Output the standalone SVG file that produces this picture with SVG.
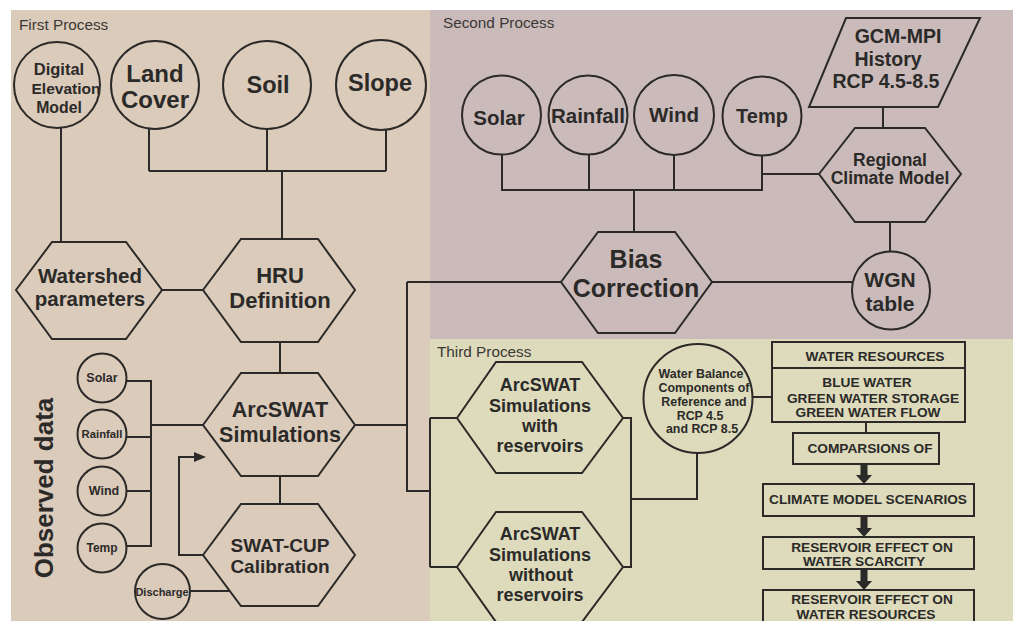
<svg xmlns="http://www.w3.org/2000/svg" width="1013" height="621" viewBox="0 0 1013 621">
<defs>
<style>
.ln{fill:none;stroke:#2b2a29;stroke-width:2}
.sh{stroke:#2b2a29;stroke-width:2}
.p1{fill:#dbcbba}
.p2{fill:#cabbba}
.p3{fill:#dddbbb}
text{font-family:"Liberation Sans",Arial,sans-serif;fill:#2b2a29;font-weight:bold;text-anchor:middle}
.lab{font-weight:normal;text-anchor:start;fill:#3a3836;font-size:15.3px}
.arr{fill:#2b2a29}
</style>
</defs>
<rect x="0" y="0" width="1013" height="621" fill="#ffffff"/>
<rect x="11" y="10" width="419" height="611" class="p1"/>
<rect x="430" y="10" width="583" height="329" class="p2"/>
<rect x="430" y="339" width="583" height="282" class="p3"/>
<text class="lab" x="19" y="30">First Process</text>
<text class="lab" x="443" y="28">Second Process</text>
<text class="lab" x="437" y="357">Third Process</text>

<g id="connectors">
<path class="ln" d="M61,128 V242"/>
<path class="ln" d="M149,129 V171 M267,129 V171 M386,130 V171 M149,171 H386 M282,171 V239"/>
<path class="ln" d="M162,290 H203"/>
<path class="ln" d="M280,342 V373"/>
<path class="ln" d="M280,476 V504"/>
<path class="ln" d="M203,555 H179 V457 H196"/>
<polygon class="arr" points="194,452 206,457 194,462"/>
<path class="ln" d="M126,381 H151 M127,437 H151 M127,491 H151 M127,546 H151 M151,380 V547 M151,425 H203"/>
<path class="ln" d="M190,591 H229"/>
<path class="ln" d="M355,425 H407 M407,282 V491 H430 M407,282 H561"/>
<path class="ln" d="M430,418 V567 M430,418 H457 M430,567 H457"/>
<path class="ln" d="M623,418 H631 V567 H623 M631,499 H697 V452"/>
<path class="ln" d="M752,397 H772"/>
<path class="ln" d="M502,155 V190 M589,155 V190 M674,155 V190 M762,156 V190 M501,190 H763 M634,190 V232 M762,174 H819 M883,107 V128 M890,222 V252 M712,282 H852"/>
<path class="ln" d="M866,422 V433"/>
<polygon class="arr" points="860.5,464 867.5,464 867.5,475 872,475 864,484 856,475 860.5,475"/>
<polygon class="arr" points="860.5,516 867.5,516 867.5,528 872,528 864,537 856,528 860.5,528"/>
<polygon class="arr" points="860.5,569 867.5,569 867.5,581 872,581 864,590 856,581 860.5,581"/>
</g>

<g id="dem"><circle class="sh p1" cx="57" cy="85" r="43"/>
<text font-size="16.5" x="59" y="75">Digital</text><text font-size="15.5" x="66" y="94">Elevation</text><text font-size="15.8" x="59" y="113">Model</text></g>
<g id="landcover"><circle class="sh p1" cx="155" cy="85" r="44"/>
<text font-size="24" x="155" y="82">Land</text><text font-size="24" x="155" y="108">Cover</text></g>
<g id="soil"><circle class="sh p1" cx="267" cy="85" r="44"/>
<text font-size="23.5" x="268" y="93">Soil</text></g>
<g id="slope"><circle class="sh p1" cx="381" cy="85" r="45"/>
<text font-size="23.5" x="380" y="91">Slope</text></g>

<g id="watershed"><polygon class="sh p1" points="16,290 52,242 126,242 162,290 126,339 52,339"/>
<text font-size="20.5" x="90" y="283">Watershed</text><text font-size="20.5" x="90" y="306">parameters</text></g>
<g id="hru"><polygon class="sh p1" points="203,290 241,239 318,239 355,290 318,342 241,342"/>
<text font-size="22" x="280" y="283">HRU</text><text font-size="22" x="280" y="308">Definition</text></g>
<g id="arcswat"><polygon class="sh p1" points="203,425 241,373 318,373 355,425 318,476 241,476"/>
<text font-size="21.5" x="280" y="417">ArcSWAT</text><text font-size="21.5" x="280" y="442">Simulations</text></g>
<g id="swatcup"><polygon class="sh p1" points="203,555 241,504 318,504 355,555 318,606 241,606"/>
<text font-size="19" x="280" y="552">SWAT-CUP</text><text font-size="19" x="280" y="573">Calibration</text></g>

<g id="observed"><text font-size="26" transform="translate(53,488) rotate(-90)">Observed data</text></g>
<g id="obs-solar"><circle class="sh p1" cx="102" cy="378" r="24.5"/><text font-size="12.5" x="102" y="382">Solar</text></g>
<g id="obs-rainfall"><circle class="sh p1" cx="102" cy="434" r="24.5"/><text font-size="11.3" x="102" y="438">Rainfall</text></g>
<g id="obs-wind"><circle class="sh p1" cx="102" cy="491" r="24.5"/><text font-size="12.5" x="104" y="495">Wind</text></g>
<g id="obs-temp"><circle class="sh p1" cx="102" cy="548" r="24.5"/><text font-size="12" x="102" y="552">Temp</text></g>
<g id="discharge"><circle class="sh p1" cx="162.5" cy="591.5" r="27.5"/><text font-size="11" x="162" y="596">Discharge</text></g>

<g id="solar2"><circle class="sh p2" cx="501.5" cy="115" r="39.5"/><text font-size="20.5" x="499" y="125">Solar</text></g>
<g id="rainfall2"><circle class="sh p2" cx="588" cy="115" r="39.5"/><text font-size="20.5" x="588" y="123">Rainfall</text></g>
<g id="wind2"><circle class="sh p2" cx="674" cy="115" r="40"/><text font-size="20.5" x="674" y="122">Wind</text></g>
<g id="temp2"><circle class="sh p2" cx="762" cy="116" r="39.5"/><text font-size="20" x="762" y="123">Temp</text></g>
<g id="gcm"><polygon class="sh p2" points="846,18 980,18 938,107 809,107"/>
<text font-size="19.5" x="898" y="43">GCM-MPI</text><text font-size="19.5" x="888" y="66">History</text><text font-size="19.5" x="886" y="88">RCP 4.5-8.5</text></g>
<g id="regional"><polygon class="sh p2" points="819,174 855,128 925,128 961,174 925,222 855,222"/>
<text font-size="17.5" x="890" y="166">Regional</text><text font-size="17.5" x="890" y="184">Climate Model</text></g>
<g id="bias"><polygon class="sh p2" points="561,282 598,232 675,232 712,282 675,333 598,333"/>
<text font-size="25" x="636" y="268">Bias</text><text font-size="25" x="636" y="297">Correction</text></g>
<g id="wgn"><circle class="sh p2" cx="891" cy="290.5" r="39"/>
<text font-size="21" x="890" y="287">WGN</text><text font-size="21" x="890" y="311">table</text></g>

<g id="with-res"><polygon class="sh p3" points="457,418 496,362 582,362 623,418 582,473 496,473"/>
<text font-size="18" x="540" y="391">ArcSWAT</text><text font-size="18" x="540" y="412">Simulations</text><text font-size="18" x="540" y="432">with</text><text font-size="18" x="540" y="452">reservoirs</text></g>
<g id="without-res"><polygon class="sh p3" points="457,567 496,512 582,512 623,567 582,622 496,622"/>
<text font-size="18" x="540" y="540">ArcSWAT</text><text font-size="18" x="540" y="561">Simulations</text><text font-size="18" x="541" y="581">without</text><text font-size="18" x="540" y="601">reservoirs</text></g>
<g id="water-balance"><circle class="sh p3" cx="698" cy="398.5" r="54.5"/>
<text font-size="12.4" x="701" y="378">Water Balance</text><text font-size="12.4" x="704" y="392">Components of</text><text font-size="12.4" x="704" y="406">Reference and</text><text font-size="12.4" x="700" y="420">RCP 4.5</text><text font-size="12.4" x="702" y="433">and RCP 8.5</text></g>
<g id="water-resources"><rect class="sh p3" x="772" y="342" width="193" height="26"/><text font-size="13.7" x="875" y="361">WATER RESOURCES</text></g>
<g id="blue-green"><rect class="sh p3" x="772" y="368" width="193" height="54"/>
<text font-size="13.7" x="867" y="387">BLUE WATER</text><text font-size="13.7" x="873" y="403">GREEN WATER STORAGE</text><text font-size="13.7" x="868" y="417">GREEN WATER FLOW</text></g>
<g id="comparisons"><rect class="sh p3" x="793" y="433" width="146" height="31"/><text font-size="13.7" x="870" y="453">COMPARSIONS OF</text></g>
<g id="climate-scen"><rect class="sh p3" x="763" y="484" width="211" height="32"/><text font-size="13.7" x="868" y="504">CLIMATE MODEL SCENARIOS</text></g>
<g id="res-scarcity"><rect class="sh p3" x="763" y="537" width="211" height="32"/>
<text font-size="13.7" x="872" y="552">RESERVOIR EFFECT ON</text><text font-size="13.7" x="864" y="566">WATER SCARCITY</text></g>
<g id="res-resources"><rect class="sh p3" x="763" y="590" width="211" height="36"/>
<text font-size="13.7" x="872" y="604">RESERVOIR EFFECT ON</text><text font-size="13.7" x="866" y="619">WATER RESOURCES</text></g>
</svg>
